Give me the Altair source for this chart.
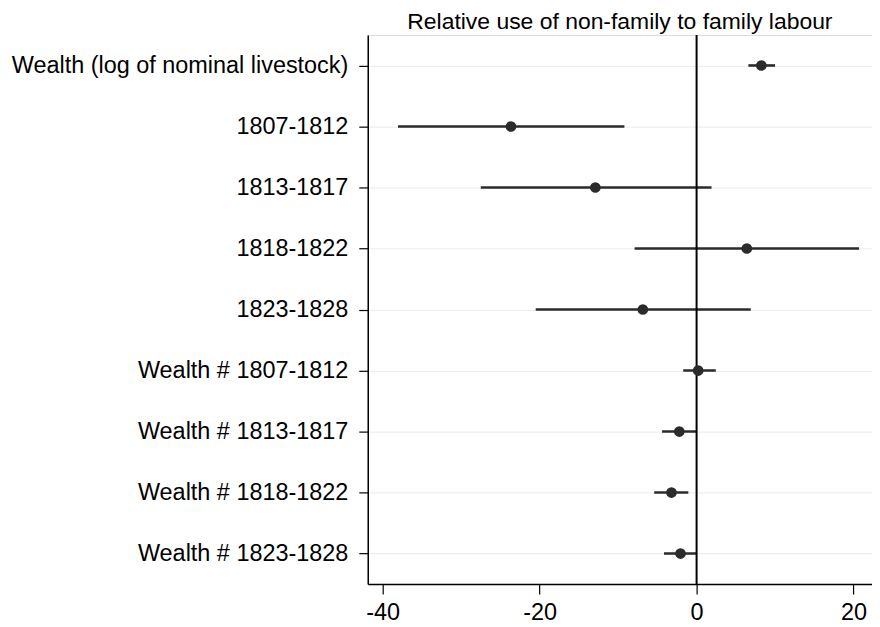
import altair as alt
import pandas as pd

terms = [
    "Wealth (log of nominal livestock)",
    "1807-1812",
    "1813-1817",
    "1818-1822",
    "1823-1828",
    "Wealth # 1807-1812",
    "Wealth # 1813-1817",
    "Wealth # 1818-1822",
    "Wealth # 1823-1828",
]
estimate = [8.25, -23.65, -12.9, 6.4, -6.85, 0.2, -2.2, -3.2, -2.05]
ci_low = [6.6, -38.05, -27.5, -7.9, -20.5, -1.7, -4.4, -5.4, -4.15]
ci_high = [10.0, -9.2, 1.9, 20.7, 6.9, 2.45, 0.0, -1.05, 0.0]
x_ticks = [-40, -20, 0, 20]

df = pd.DataFrame({"term": terms, "est": estimate, "lo": ci_low, "hi": ci_high})

FONT = "Liberation Sans"
INK = "#2b2b2b"

xscale = alt.Scale(domain=[-41.9, 22.35], nice=False, zero=False)
yscale = alt.Scale(type="point", domain=terms, padding=0.5)

base = alt.Chart(df)

ycommon = alt.Y(
    "term:N",
    sort=None,
    scale=yscale,
    title=None,
    axis=alt.Axis(
        labelFont=FONT,
        labelFontSize=23.5,
        labelColor="black",
        labelLimit=500,
        tickSize=9,
        tickColor="black",
        tickWidth=1.2,
        labelPadding=11,
        domainColor="black",
        domainWidth=1.5,
        grid=True,
        gridColor="#eeeeee",
        gridWidth=1.2,
    ),
)

xaxis = alt.Axis(
    values=x_ticks,
    labelExpr="'' + datum.value",
    labelFont=FONT,
    labelFontSize=23.5,
    labelColor="black",
    tickSize=10,
    tickColor="black",
    tickWidth=1.2,
    labelPadding=7,
    domainColor="black",
    domainWidth=1.5,
    grid=False,
    title=None,
)

zero = alt.Chart(pd.DataFrame({"z": [0]})).mark_rule(color="black", strokeWidth=2).encode(
    x=alt.X("z:Q", scale=xscale, axis=xaxis)
)

bars = base.mark_rule(color=INK, strokeWidth=2.6).encode(
    x=alt.X("lo:Q", scale=xscale, axis=xaxis),
    x2="hi:Q",
    y=ycommon,
)

pts = base.mark_circle(color=INK, opacity=1, size=115).encode(
    x=alt.X("est:Q", scale=xscale, axis=xaxis),
    y=ycommon,
)

chart = (
    alt.layer(bars, zero, pts)
    .properties(
        width=506,
        height=551,
        autosize="none",
        padding={"left": 361, "top": 26, "right": 0, "bottom": 40},
        title=alt.TitleParams(
            "Relative use of non-family to family labour",
            font=FONT,
            fontSize=23,
            fontWeight="normal",
            color="black",
            anchor="middle",
            offset=0,
        ),
    )
    .configure_view(stroke=None)
    .configure(background="white")
)

chart.save("out.html", embed_options={"renderer": "svg", "actions": False})
